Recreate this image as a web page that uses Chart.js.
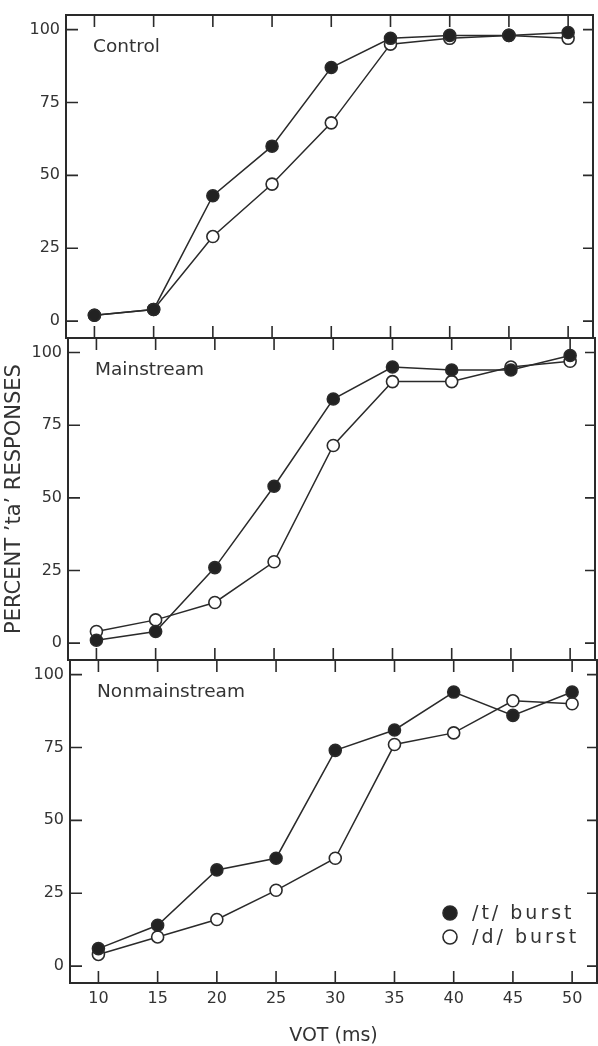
<!DOCTYPE html>
<html>
<head>
<meta charset="utf-8">
<script src="https://cdn.jsdelivr.net/npm/chart.js@4.4.1/dist/chart.umd.min.js"></script>
<style>
  body { margin: 0; background: #fff; }
  #wrap { position: relative; width: 598px; height: 1046px; }
  #wrap canvas { position: absolute; left: 0; top: 0; }
</style>
</head>
<body>
<div id="wrap">
  <canvas id="panel0" width="598" height="1046"></canvas>
  <canvas id="panel1" width="598" height="1046"></canvas>
  <canvas id="panel2" width="598" height="1046"></canvas>
</div>
<script>
(function () {

    // data
    const vot = [10, 15, 20, 25, 30, 35, 40, 45, 50];
    const yTicks = [0, 25, 50, 75, 100];
    const panelNames = ['Control', 'Mainstream', 'Nonmainstream'];
    const seriesNames = ['/t/ burst', '/d/ burst'];

    const controlT = [2, 4, 43, 60, 87, 97, 98, 98, 99];
    const controlD = [2, 4, 29, 47, 68, 95, 97, 98, 97];
    const mainT = [1, 4, 26, 54, 84, 95, 94, 94, 99];
    const mainD = [4, 8, 14, 28, 68, 90, 90, 95, 97];
    const nonmainT = [6, 14, 33, 37, 74, 81, 94, 86, 94];
    const nonmainD = [4, 10, 16, 26, 37, 76, 80, 91, 90];

    const panelSeries = [[controlT, controlD], [mainT, mainD], [nonmainT, nonmainD]];

    const W = 598, H = 1046;
    // scanned figure is slightly skewed, so each panel sits a bit further right
    const panelBox = [
        { top: 15, bottom: 338, left: 66, right: 593 },
        { top: 338, bottom: 660, left: 68, right: 595 },
        { top: 660, bottom: 983, left: 70, right: 597 }
    ];

    const ink = '#2a2a2a';
    const textInk = '#333';
    const family = '"DejaVu Sans", sans-serif';

    // box with inward ticks on all four sides, plus the panel name
    const framePlugin = {
        id: 'frame',
        beforeDatasetsDraw(chart, args, opts) {
            const { ctx, chartArea: a, scales } = chart;
            ctx.save();
            ctx.strokeStyle = ink;
            ctx.lineWidth = 2;
            ctx.strokeRect(a.left, a.top, a.right - a.left, a.bottom - a.top);
            ctx.lineWidth = 1.6;
            ctx.beginPath();
            scales.y.ticks.forEach((t) => {
                const y = scales.y.getPixelForValue(t.value);
                ctx.moveTo(a.left, y); ctx.lineTo(a.left + 12, y);
                ctx.moveTo(a.right, y); ctx.lineTo(a.right - 10, y);
            });
            scales.x.ticks.forEach((t) => {
                const x = scales.x.getPixelForValue(t.value);
                ctx.moveTo(x, a.top); ctx.lineTo(x, a.top + 12);
                ctx.moveTo(x, a.bottom); ctx.lineTo(x, a.bottom - 12);
            });
            ctx.stroke();

            ctx.fillStyle = textInk;
            ctx.font = '18.5px ' + family;
            ctx.textBaseline = 'middle';
            ctx.fillText(opts.name, a.left + 27, a.top + 32);
            ctx.restore();
        }
    };

    const legendPlugin = {
        id: 'burstLegend',
        afterDraw(chart) {
            const { ctx, chartArea: a } = chart;
            ctx.save();
            ctx.font = '19px ' + family;
            ctx.letterSpacing = '3px';
            ctx.textBaseline = 'middle';
            chart.data.datasets.forEach((ds, i) => {
                const cx = a.right - 147;
                const cy = a.bottom - 70 + i * 24;
                ctx.beginPath();
                ctx.arc(cx, cy, 7, 0, Math.PI * 2);
                ctx.fillStyle = ds.pointBackgroundColor;
                ctx.fill();
                ctx.lineWidth = 1.6;
                ctx.strokeStyle = ink;
                ctx.stroke();
                ctx.fillStyle = textInk;
                ctx.fillText(ds.label, cx + 22, cy + 1);
            });
            ctx.restore();
        }
    };

    function makeDataset(label, values, fill) {
        return {
            label: label,
            data: vot.map((v, i) => ({ x: v, y: values[i] })),
            borderColor: ink,
            borderWidth: 1.5,
            pointRadius: 6,
            pointHoverRadius: 6,
            pointBorderWidth: 1.6,
            pointBorderColor: ink,
            pointBackgroundColor: fill,
            tension: 0
        };
    }

    function initPanel(i) {
        const box = panelBox[i];
        const isBottom = i === panelBox.length - 1;
        const [tVals, dVals] = panelSeries[i];

        new Chart(document.getElementById(`panel${i}`), {
            type: 'line',
            data: {
                datasets: [
                    makeDataset(seriesNames[0], tVals, '#222'),
                    makeDataset(seriesNames[1], dVals, '#fff')
                ]
            },
            options: {
                responsive: false,
                animation: false,
                devicePixelRatio: 1,
                layout: {
                    autoPadding: false,
                    padding: {
                        top: box.top,
                        bottom: isBottom ? 0 : H - box.bottom,
                        left: 0,
                        right: W - box.right
                    }
                },
                scales: {
                    x: {
                        type: 'linear',
                        display: isBottom,
                        min: 7.6,
                        max: 52.1,
                        afterBuildTicks: (s) => { s.ticks = vot.map((v) => ({ value: v })); },
                        afterFit: (s) => {
                            if (isBottom) s.height = H - box.bottom;
                            s.paddingLeft = 0;
                            s.paddingRight = 0;
                        },
                        grid: { display: false, drawTicks: false },
                        border: { display: false },
                        ticks: { color: textInk, font: { family: family, size: 16 }, padding: 6, maxRotation: 0 },
                        title: {
                            display: true,
                            text: 'VOT (ms)',
                            color: textInk,
                            font: { family: family, size: 19, lineHeight: 1 },
                            padding: 0
                        }
                    },
                    y: {
                        min: -5.8,
                        max: 105,
                        afterBuildTicks: (s) => { s.ticks = yTicks.map((v) => ({ value: v })); },
                        afterFit: (s) => {
                            s.width = box.left;
                            s.paddingTop = 0;
                            s.paddingBottom = 0;
                        },
                        grid: { display: false, drawTicks: false },
                        border: { display: false },
                        ticks: { color: textInk, font: { family: family, size: 16 }, padding: 6 },
                        title: {
                            display: i === 1,
                            text: 'PERCENT \u2019ta\u2019 RESPONSES',
                            color: textInk,
                            font: { family: family, size: 21, lineHeight: 1 },
                            padding: { top: 4, bottom: 0 }
                        }
                    }
                },
                plugins: {
                    legend: { display: false },
                    tooltip: { enabled: false },
                    frame: { name: panelNames[i] }
                }
            },
            plugins: isBottom ? [framePlugin, legendPlugin] : [framePlugin]
        });
    }

    panelBox.forEach((box, i) => initPanel(i));

}());
</script>
</body>
</html>
